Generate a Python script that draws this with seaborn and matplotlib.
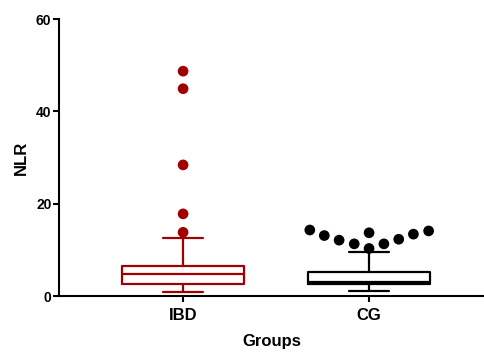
import pandas as pd
import matplotlib.pyplot as plt
import seaborn as sns

groups = ["IBD", "CG"]
# five-number summaries: whisker low, Q1, median, Q3, whisker high
ibd_box = [0.9, 2.6, 4.8, 6.4, 12.6]
cg_box = [1.1, 2.6, 3.0, 5.1, 9.5]
# points drawn beyond the whiskers
ibd_outliers = [13.8, 17.8, 28.4, 44.9, 48.7]
cg_outliers = [14.3, 14.1, 11.3, 12.3, 13.7, 11.3, 12.1, 13.4, 10.3, 13.1]
colors = {"IBD": "#a00000", "CG": "black"}

box_df = pd.DataFrame({"group": ["IBD"] * len(ibd_box) + ["CG"] * len(cg_box),
                       "NLR": ibd_box + cg_box})
out_df = pd.DataFrame({"group": ["IBD"] * len(ibd_outliers) + ["CG"] * len(cg_outliers),
                       "NLR": ibd_outliers + cg_outliers})

sns.set_style("ticks")
plt.rcParams["font.family"] = ["Liberation Sans", "DejaVu Sans"]
plt.rcParams["font.weight"] = "bold"
plt.rcParams["text.color"] = "black"
plt.rcParams["axes.labelcolor"] = "black"
plt.rcParams["xtick.color"] = "black"
plt.rcParams["ytick.color"] = "black"
plt.rcParams["axes.edgecolor"] = "black"

fig = plt.figure(figsize=(4.84, 3.52), dpi=100)
ax = fig.add_axes([0.122, 0.159, 0.878, 0.787])

sns.boxplot(data=box_df, x="group", y="NLR", hue="group", order=groups,
            palette=colors, fill=False, whis=(0, 100), showfliers=False,
            width=0.66, linewidth=1.6, capwidths=0.215, legend=False, ax=ax)
# invisible edge widens the swarm spacing a little, like the prism layout
sns.swarmplot(data=out_df, x="group", y="NLR", hue="group", order=groups,
              palette=colors, size=7.7, linewidth=3, edgecolor="none",
              legend=False, ax=ax)

ax.set_xlim(-0.667, 1.618)
ax.set_ylim(0, 60)
ax.set_yticks([0, 20, 40, 60])
sns.despine(ax=ax)
for s in ["left", "bottom"]:
    ax.spines[s].set_linewidth(1.5)
ax.tick_params(axis="y", width=1.5, length=4.5, labelsize=10, pad=1)
ax.tick_params(axis="x", width=1.5, length=4.5, labelsize=12, pad=4)

ax.set_xlabel("Groups", fontsize=12, fontweight="bold", labelpad=8)
ax.set_ylabel("NLR", fontsize=12, fontweight="bold", labelpad=5)

plt.savefig("out.png", dpi=100)
